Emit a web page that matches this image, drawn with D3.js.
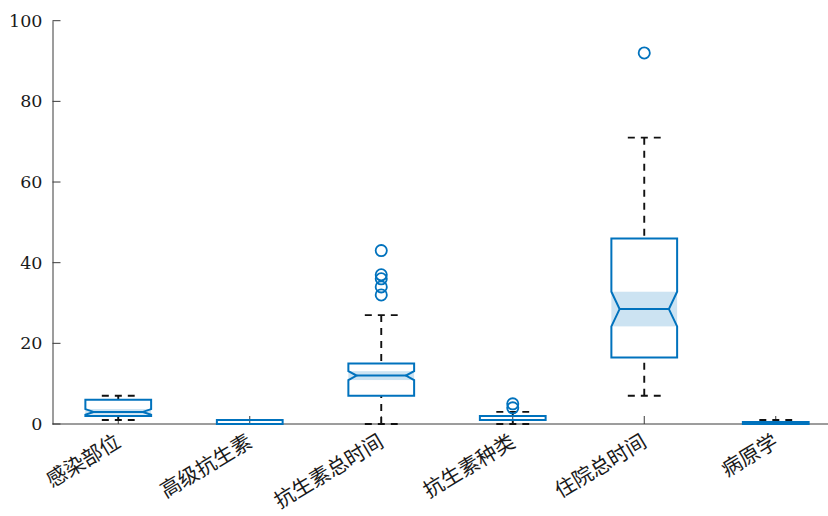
<!DOCTYPE html>
<html>
<head>
<meta charset="utf-8">
<script src="https://cdn.jsdelivr.net/npm/d3@7"></script>
<style>
  html, body { margin: 0; padding: 0; background: #ffffff; }
  svg { display: block; }
</style>
</head>
<body>
<script>
// Box statistics per indicator
const categories = ["感染部位", "高级抗生素", "抗生素总时间", "抗生素种类", "住院总时间", "病原学"];
const whiskerLow  = [1, 0, 0, 0, 7, 0];
const q1          = [2, 0, 7, 1, 16.5, 0];
const median      = [3, 0, 12, 1, 28.5, 0];
const q3          = [6, 1, 15, 2, 46, 0.5];
const whiskerHigh = [7, 1, 27, 3, 71, 1];
const notchLow    = [2.3, 0, 10.9, 1, 24.2, 0];
const notchHigh   = [3.7, 0, 13.1, 1, 32.8, 0];
const outliers    = [[], [], [43, 37, 36, 34, 32], [5, 4], [92], []];
const yTicks      = [0, 20, 40, 60, 80, 100];

const W = 828, H = 516;
const blue = "#0072BD";
const axisColor = "#3a3a3a";

const svg = d3.select("body").append("svg")
  .attr("width", W).attr("height", H);

const x = d3.scaleLinear().domain([0.5, categories.length + 0.5]).range([52.5, 841.5]);
const y = d3.scaleLinear().domain([0, 100]).range([424, 20.7]);

const boxW = x(1.5) - x(1);        // half of a category slot
const capW = boxW / 2;
const indent = boxW * 0.125;

// Axes
const gAxes = svg.append("g");
const yAxis = d3.axisLeft(y).tickValues(yTicks).tickSize(0).tickPadding(10).tickFormat(d3.format("d"));
const gy = gAxes.append("g").attr("transform", `translate(${x(0.5)},0)`).call(yAxis);
gy.select(".domain").attr("stroke", axisColor).attr("stroke-width", 1);
gy.selectAll("text")
  .attr("font-family", "'DejaVu Serif', 'Liberation Serif', serif")
  .attr("font-size", 17.5).attr("fill", "#1a1a1a");
// inward tick marks on the y axis
gAxes.selectAll(".ytick").data(yTicks).join("line")
  .attr("x1", x(0.5)).attr("x2", x(0.5) + 8)
  .attr("y1", d => y(d)).attr("y2", d => y(d))
  .attr("stroke", axisColor).attr("stroke-width", 1);

// x axis line with inward ticks
gAxes.append("line")
  .attr("x1", x(0.5)).attr("x2", x(categories.length + 0.5))
  .attr("y1", y(0)).attr("y2", y(0))
  .attr("stroke", axisColor).attr("stroke-width", 1);
gAxes.selectAll(".xtick").data(categories).join("line")
  .attr("x1", (d, i) => x(i + 1)).attr("x2", (d, i) => x(i + 1))
  .attr("y1", y(0)).attr("y2", y(0) - 8)
  .attr("stroke", axisColor).attr("stroke-width", 1);

// rotated category labels
gAxes.selectAll(".xlabel").data(categories).join("text")
  .attr("transform", (d, i) => `translate(${x(i + 1) + 1},${y(0) + 17}) rotate(-31)`)
  .attr("text-anchor", "end")
  .attr("dominant-baseline", "middle")
  .attr("font-family", "'Noto Sans CJK SC', sans-serif")
  .attr("font-size", 20.5)
  .attr("fill", "#1a1a1a")
  .text(d => d);

// Boxes
const boxes = svg.append("g");
categories.forEach((c, i) => {
  const cx = x(i + 1);
  const L = cx - boxW / 2, R = cx + boxW / 2;
  const g = boxes.append("g");
  const hasNotch = notchHigh[i] > notchLow[i];

  // notch confidence band
  if (hasNotch) {
    g.append("rect")
      .attr("x", L).attr("width", boxW)
      .attr("y", y(notchHigh[i])).attr("height", y(notchLow[i]) - y(notchHigh[i]))
      .attr("fill", blue).attr("fill-opacity", 0.2);
  }

  // whiskers (drawn from the cap toward the box)
  const wStyle = sel => sel.attr("stroke", "#111").attr("stroke-width", 1.9)
    .attr("stroke-dasharray", "7,6").attr("fill", "none");
  if (whiskerHigh[i] > q3[i]) {
    g.append("line").attr("x1", cx).attr("x2", cx)
      .attr("y1", y(whiskerHigh[i])).attr("y2", y(q3[i])).call(wStyle);
  }
  if (whiskerLow[i] < q1[i]) {
    g.append("line").attr("x1", cx).attr("x2", cx)
      .attr("y1", y(whiskerLow[i])).attr("y2", y(q1[i])).call(wStyle);
  }
  [whiskerHigh[i], whiskerLow[i]].forEach(v => {
    g.append("line").attr("x1", cx - capW / 2).attr("x2", cx + capW / 2)
      .attr("y1", y(v)).attr("y2", y(v)).call(wStyle);
  });

  // notched box outline
  const ind = hasNotch ? indent : 0;
  const pts = [
    [L, y(q3[i])], [L, y(notchHigh[i])], [L + ind, y(median[i])],
    [L, y(notchLow[i])], [L, y(q1[i])],
    [R, y(q1[i])], [R, y(notchLow[i])], [R - ind, y(median[i])],
    [R, y(notchHigh[i])], [R, y(q3[i])]
  ];
  g.append("path")
    .attr("d", d3.line()(pts) + "Z")
    .attr("fill", "none").attr("stroke", blue).attr("stroke-width", 2)
    .attr("stroke-linejoin", "miter");

  // median
  g.append("line")
    .attr("x1", L + ind).attr("x2", R - ind)
    .attr("y1", y(median[i])).attr("y2", y(median[i]))
    .attr("stroke", blue).attr("stroke-width", 2);

  // outliers
  g.selectAll("circle").data(outliers[i]).join("circle")
    .attr("cx", cx).attr("cy", d => y(d)).attr("r", 5.6)
    .attr("fill", "none").attr("stroke", blue).attr("stroke-width", 1.8);
});
</script>
</body>
</html>
